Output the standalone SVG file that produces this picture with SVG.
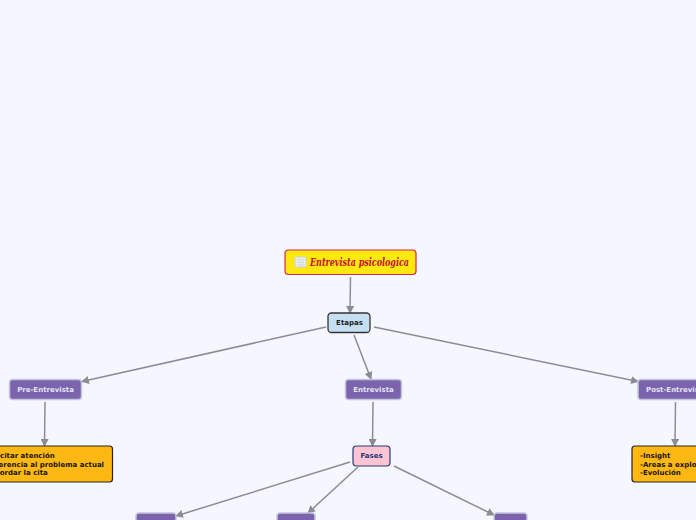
<svg xmlns="http://www.w3.org/2000/svg" width="696" height="520" viewBox="0 0 696 520">
<style>
text{font-family:"DejaVu Sans",sans-serif;font-weight:700;font-size:7px}
.c{text-anchor:middle}
.conn path{fill:none;stroke:#8c8c94;stroke-width:1.5;marker-end:url(#a)}
.p rect{fill:#7b64ad;stroke:#c3c6dc;stroke-width:1.5}
.p text{fill:#e4e2f4}
.y rect{fill:#fdb813;stroke:#2b2320;stroke-width:1.2}
.y text{fill:#1a1408}
</style>
<defs><marker id="a" markerWidth="8" markerHeight="8" refX="7" refY="4" orient="auto" markerUnits="userSpaceOnUse"><path d="M0 0L8 4L0 8Z" fill="#8c8c94" stroke="none" style="marker-end:none"/></marker></defs>
<rect width="696" height="520" fill="#f4f7ff"/>
<g class="conn">
<path d="M350.500 277L350 313"/>
<path d="M326 327L82 381.500"/>
<path d="M354 335L371 379"/>
<path d="M374 327L638 381.500"/>
<path d="M45 402L44.500 446"/>
<path d="M373 402L372.500 446"/>
<path d="M675.500 402L675 446"/>
<path d="M350 462L176 516"/>
<path d="M358 467L308 513"/>
<path d="M394 466L494 515"/>
</g>
<g id="title">
<rect x="285" y="250" width="131" height="24.500" rx="3.500" fill="#ffe80f" stroke="#d9234a" stroke-width="1.200"/>
<path d="M295 257H306V267H295Z" fill="#e8ecef" stroke="#c9ced4" stroke-width=".8"/>
<path d="M297 260H304M297 262.500H304M297 265H304" stroke="#c4cbd2" stroke-width=".7" fill="none"/>
<text x="310" y="266" textLength="99" lengthAdjust="spacingAndGlyphs" style="font-family:'DejaVu Serif',serif;font-style:italic;font-size:11px;fill:#c4102e">Entrevista psicologica</text>
</g>
<g id="etapas">
<rect x="328" y="313" width="42" height="19.500" rx="3.500" fill="#c5dff2" stroke="#3b3030" stroke-width="1.300"/>
<text class="c" x="349.500" y="325" fill="#222">Etapas</text>
</g>
<g id="pre" class="p">
<rect x="9.500" y="379.500" width="72" height="20" rx="3"/>
<text class="c" x="45.500" y="392">Pre-Entrevista</text>
</g>
<g id="ent" class="p">
<rect x="345.500" y="379.500" width="56" height="20" rx="3"/>
<text class="c" x="373.500" y="392">Entrevista</text>
</g>
<g id="post" class="p">
<rect x="638" y="379.500" width="76" height="20" rx="3"/>
<text x="646" y="392">Post-Entrevista</text>
</g>
<g id="pre-note" class="y">
<rect x="-30" y="446" width="142.500" height="36" rx="3"/>
<text x="-17.500" y="458">-Solicitar atención</text>
<text x="-17.500" y="467">-Referencia al problema actual</text>
<text x="-17.500" y="475">-Recordar la cita</text>
</g>
<g id="post-note" class="y">
<rect x="632" y="446" width="90" height="36" rx="3"/>
<text x="640" y="458">-Insight</text>
<text x="640" y="467">-Areas a explorar</text>
<text x="640" y="475">-Evolución</text>
</g>
<g id="fases">
<rect x="353" y="446" width="37" height="20" rx="3.500" fill="#fcc3d2" stroke="#27367a" stroke-width="1.200"/>
<text class="c" x="371.500" y="458" fill="#27367a">Fases</text>
</g>
<g id="f1" class="p"><rect x="136" y="513" width="40" height="20" rx="3"/></g>
<g id="f2" class="p"><rect x="277" y="513" width="38" height="20" rx="3"/></g>
<g id="f3" class="p"><rect x="494" y="513" width="33" height="20" rx="3"/></g>
</svg>
